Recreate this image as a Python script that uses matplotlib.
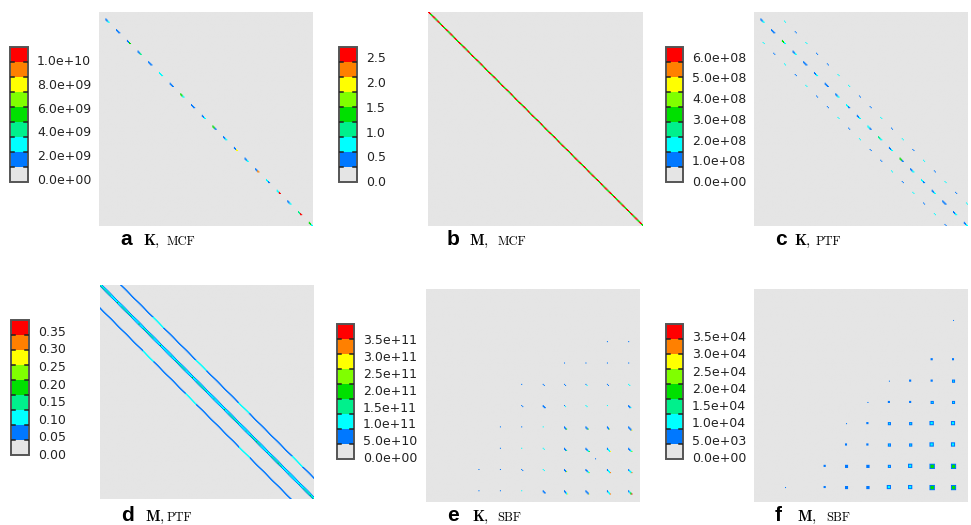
import numpy as np
import matplotlib.pyplot as plt
from matplotlib import colors, transforms
from matplotlib.cm import ScalarMappable

plt.rcParams['mathtext.fontset'] = 'cm'

W, H = 971, 525
N = 200   # matrix size (entries)
B = 10    # entries per node block

band_colors = ['#e5e5e5', '#0078ff', '#00ffff', '#00f08c', '#00e000',
               '#80ff00', '#ffff00', '#ff8000', '#ff0000']

# ---------------- data ----------------
# a  K, MCF   (x1e9) one dash per diagonal block
a_head = [1.6, 1.6, 1.6, 1.6, 1.6, 2.9, 1.6, 5.4, 1.6, 1.6,
          5.4, 1.6, 1.6, 1.6, 1.6, 2.9, 2.9, 1.6, 4.2, 5.4]
a_tail = [2.9, 1.6, 5.4, 4.2, 1.6, 2.9, 1.6, 2.9, 1.6, 2.9,
          1.6, 2.9, 8.0, 2.9, 9.2, 1.6, 10.5, 2.9, 10.5, 2.9]

# b  M, MCF   diagonal, repeating dof values
b_dof = [2.6, 2.6, 1.3, 1.3]

# c  K, PTF   (x1e8) main dashes and +/-2 block off-diagonals
c_main_head = [1.0, 1.0, 3.2, 1.0, 1.0, 1.0, 1.0, 1.0, 1.8, 1.0,
               1.8, 2.5, 1.0, 3.2, 1.0, 1.8, 1.0, 1.0, 1.0, 1.0]
c_main_tail = [1.8, 1.0, 1.8, 1.8, 1.0, 1.8, 1.0, 1.8, 1.0, 1.8,
               1.0, 1.8, 1.8, 1.0, 1.8, 1.0, 1.8, 1.0, 1.8, 1.8]
c_upper = [1.8, 1.0, 1.8, 1.0, 1.0, 1.8, 1.8, 1.0, 1.0,
           1.8, 1.0, 1.8, 1.0, 1.8, 1.0, 1.8, 1.0, 1.8]
c_lower = [1.8, 1.0, 1.8, 1.0, 1.8, 1.0, 1.0, 1.8, 1.0,
           1.8, 1.0, 1.0, 1.8, 1.0, 1.8, 1.0, 1.8, 1.0]

# d  M, PTF   banded, per block
d_main = [0.13, 0.11, 0.13, 0.11, 0.13, 0.11, 0.11, 0.13, 0.11, 0.13,
          0.11, 0.11, 0.13, 0.11, 0.13, 0.11, 0.13, 0.11, 0.11, 0.13]
d_node = [0.16, 0.18, 0.15, 0.17, 0.15, 0.18, 0.16, 0.15, 0.19, 0.16,
          0.15, 0.18, 0.16, 0.15, 0.17, 0.16, 0.18, 0.15, 0.16, 0.17]
d_side = [0.10, 0.09, 0.10, 0.10, 0.09, 0.10, 0.10, 0.09, 0.10, 0.10,
          0.09, 0.10, 0.10, 0.09, 0.10, 0.10, 0.09, 0.10, 0.10, 0.09]
d_edge = [0.06, 0.06, 0.06, 0.06, 0.06, 0.06, 0.06, 0.06, 0.06, 0.06,
          0.06, 0.06, 0.06, 0.06, 0.06, 0.06, 0.06, 0.06, 0.06, 0.06]
d_upper = [0.07, 0.06, 0.07, 0.09, 0.06, 0.07, 0.06, 0.09, 0.06, 0.07,
           0.06, 0.09, 0.07, 0.06, 0.07, 0.06, 0.09, 0.06, 0.07, 0.06]
d_lower = [0.06, 0.07, 0.06, 0.07, 0.09, 0.06, 0.07, 0.06, 0.09, 0.06,
           0.07, 0.06, 0.07, 0.09, 0.06, 0.07, 0.06, 0.07, 0.09, 0.06]

# e  K, SBF   (x1e11) dashes at grid nodes
e_pos = [49, 69, 89, 109, 129, 149, 169, 189]
e_dots = [
    [[], [], [], [], [], [], [0.6], [0.6]],
    [[], [], [], [], [0.6], [0.6], [0.6], [0.6]],
    [[], [], [0.6], [0.6, 0.6], [0.6, 0.6], [0.6, 1.05], [0.6, 0.6], [1.05, 1.05]],
    [[], [], [0.6, 0.6], [0.6, 0.6, 0.6], [0.6, 1.05], [1.05, 1.05], [1.05], [0.6, 0.6, 1.05]],
    [[], [0.6], [0.6], [1.05], [0.6, 0.6, 1.95], [0.6, 0.6, 1.95], [0.6, 0.6, 2.4], [0.6, 0.6, 0.6, 2.8]],
    [[], [0.6], [1.05], [1.05, 1.05], [0.6, 0.6, 1.5], [0.6, 0.6, 1.05, 1.95], [0.6, 1.05, 1.05, 2.8], [0.6, 0.6, 1.05, 2.4]],
    [[0.6], [0.6], [0.6, 0.6], [1.05, 1.05], [0.6, 0.6, 2.4], [0.6, 0.6, 1.05, 2.4], [0.6, 1.05, 1.05, 3.3], [0.6, 1.05, 1.05, 3.3]],
    [[0.6], [0.6], [1.05], [0.6, 0.6, 0.6], [0.6, 0.6, 1.05, 2.8], [0.6, 0.6, 0.6, 2.8], [0.6, 1.05, 1.05, 3.3], [0.6, 1.05, 1.95, 3.7]],
]
e_extra = (159, 158, 0.6)

# f  M, SBF   (x1e4) small blobs at grid nodes
f_pos = [29, 66, 86, 106, 126, 146, 166, 186]
f_size = [
    [0, 0, 0, 0, 0, 0, 0, 1],
    [0, 0, 0, 0, 0, 0, 2, 2],
    [0, 0, 0, 0, 1, 2, 2, 3],
    [0, 0, 0, 1, 2, 2, 3, 3],
    [0, 0, 1, 2, 3, 3, 4, 4],
    [0, 0, 2, 2, 3, 3, 4, 4],
    [0, 2, 3, 3, 3, 4, 5, 5],
    [1, 2, 3, 3, 4, 4, 5, 5],
]
f_core = [
    [0, 0, 0, 0, 0, 0, 0, 0.6],
    [0, 0, 0, 0, 0, 0, 0.6, 0.6],
    [0, 0, 0, 0, 0.6, 0.6, 0.6, 0.9],
    [0, 0, 0, 0.6, 0.6, 0.6, 0.9, 0.9],
    [0, 0, 0.6, 0.6, 0.9, 0.9, 1.0, 1.1],
    [0, 0, 0.6, 0.6, 0.9, 0.9, 1.1, 1.2],
    [0, 0.6, 0.6, 0.6, 1.0, 1.1, 1.9, 2.0],
    [0.6, 0.6, 0.6, 0.6, 1.0, 1.2, 2.0, 2.0],
]
f_rim = 0.6

# colour legend ticks
a_ticks = [0, 2e9, 4e9, 6e9, 8e9, 1e10]
b_ticks = [0, 0.5, 1.0, 1.5, 2.0, 2.5]
c_ticks = [0, 1e8, 2e8, 3e8, 4e8, 5e8, 6e8]
d_ticks = [0, 0.05, 0.10, 0.15, 0.20, 0.25, 0.30, 0.35]
e_ticks = [0, 5e10, 1e11, 1.5e11, 2e11, 2.5e11, 3e11, 3.5e11]
f_ticks = [0, 5e3, 1e4, 1.5e4, 2e4, 2.5e4, 3e4, 3.5e4]


# ---------------- build matrices ----------------
def dash(M, r, c, vals, thick=False):
    for k, v in enumerate(vals):
        M[r + k, c + k] = v
        if thick and k < len(vals) - 1:
            M[r + k + 1, c + k] = v


def build_a():
    M = np.zeros((N, N))
    for k in range(N // B):
        p = k * B + 6
        dash(M, p, p, [a_head[k], a_head[k], a_tail[k], a_tail[k]], thick=True)
    return M * 1e9


def build_b():
    M = np.zeros((N, N))
    for i in range(N):
        v = b_dof[i % len(b_dof)]
        M[i, i] = v
        if i + 1 < N:
            M[i, i + 1] = v
    return M


def build_c():
    M = np.zeros((N, N))
    for k in range(N // B):
        p = k * B + 6
        h, t = c_main_head[k], c_main_tail[k]
        dash(M, p, p, [h, h, t, t], thick=True)
    for k in range(len(c_upper)):
        dash(M, k * B + 8, (k + 2) * B + 8, [c_upper[k], c_upper[k]])
        dash(M, (k + 2) * B + 8, k * B + 8, [c_lower[k], c_lower[k]])
    return M * 1e8


def build_d():
    M = np.zeros((N, N))
    for i in range(N):
        blk = i // B
        M[i, i] = d_main[blk]
        if i + 1 < N:
            M[i, i + 1] = d_side[blk]
            M[i + 1, i] = d_edge[blk]
        if i + 2 < N:
            M[i, i + 2] = d_edge[blk]
        for off in (19, 20):
            if i + off < N:
                M[i, i + off] = d_upper[blk]
        for off in (21, 22):
            if i + off < N:
                M[i + off, i] = d_lower[blk]
    for k in range(N // B):
        p = k * B + 6
        M[p, p] = d_node[k]
    return M


def build_e():
    M = np.zeros((N, N))
    for i, row in enumerate(e_dots):
        for j, vals in enumerate(row):
            if vals:
                dash(M, e_pos[i], e_pos[j], vals, thick=len(vals) > 2)
    r, c, v = e_extra
    M[r, c] = v
    return M * 1e11


def build_f():
    M = np.zeros((N, N))
    for i in range(len(f_pos)):
        for j in range(len(f_pos)):
            s = f_size[i][j]
            if s == 0:
                continue
            r0, c0 = f_pos[i] - s // 2, f_pos[j] - s // 2
            if s < 3:
                M[r0:r0 + s, c0:c0 + s] = f_core[i][j]
            else:
                M[r0:r0 + s, c0:c0 + s] = f_rim
                M[r0 + 1:r0 + s - 1, c0 + 1:c0 + s - 1] = f_core[i][j]
    return M * 1e4


panels = [
    # letter, symbol, method, matrix, ticks, label format, legend range
    ('a', 'K', 'MCF', build_a(), a_ticks, '{:.1e}', (-0.25e9, 11.09e9)),
    ('b', 'M', 'MCF', build_b(), b_ticks, '{:.1f}', (-0.02, 2.708)),
    ('c', 'K', 'PTF', build_c(), c_ticks, '{:.1e}', (-0.048e8, 6.47e8)),
    ('d', 'M', 'PTF', build_d(), d_ticks, '{:.2f}', (-0.003, 0.381)),
    ('e', 'K', 'SBF', build_e(), e_ticks, '{:.1e}', (-0.05e11, 3.94e11)),
    ('f', 'M', 'SBF', build_f(), f_ticks, '{:.1e}', (-0.058e4, 3.85e4)),
]

# layout in pixels: image box, colorbar box, caption (letter x, symbol x, method x, baseline)
img_boxes = [(99, 12, 214, 214), (428, 12, 214, 214), (754, 12, 214, 214),
             (100, 285, 214, 214), (426, 289, 213, 213), (754, 289, 214, 213)]
cb_boxes = [(10, 47, 18, 135), (339, 47, 18, 135), (666, 47, 17, 135),
            (11, 320, 18, 135), (337, 324, 17, 135), (666, 324, 17, 135)]
captions = [(120, 143, 167, 245), (447, 469, 498, 245), (775, 794, 816, 245),
            (121, 145, 167, 521), (447, 472, 497, 521), (775, 797, 826, 521)]

fig = plt.figure(figsize=(W / 100, H / 100), dpi=100)
cmap = colors.ListedColormap(band_colors)


def add_ax(box):
    x, y, w, h = box
    return fig.add_axes([x / W, 1 - (y + h) / H, w / W, h / H])


for (letter, sym, meth, M, ticks, fmt, (lo, hi)), ib, cb, cap in zip(
        panels, img_boxes, cb_boxes, captions):
    bounds = np.linspace(lo, hi, len(band_colors) + 1)
    norm = colors.BoundaryNorm(bounds, cmap.N)

    ax = add_ax(ib)
    ax.imshow(M, cmap=cmap, norm=norm, interpolation='hanning',
              interpolation_stage='rgba', aspect='auto')
    ax.set_xticks([])
    ax.set_yticks([])
    for s in ax.spines.values():
        s.set_visible(False)

    cax = add_ax(cb)
    cbar = fig.colorbar(ScalarMappable(norm=norm, cmap=cmap), cax=cax, ticks=ticks)
    cbar.ax.set_yticklabels([fmt.format(t) for t in ticks])
    cax.minorticks_off()
    cax.tick_params(which='both', length=0, width=0, pad=6.5, labelsize=9,
                    labelcolor='#222222')
    cbar.outline.set_edgecolor('#555555')
    cbar.outline.set_linewidth(1.4)
    tr = transforms.blended_transform_factory(cax.transAxes, cax.transData)
    for b in bounds[1:-1]:
        cax.plot([0, 0.22], [b, b], color='#222222', lw=1.1, transform=tr, zorder=5)
        cax.plot([0.78, 1], [b, b], color='#222222', lw=1.1, transform=tr, zorder=5)

    lx, sx, mx, by = cap
    fig.text(lx / W, 1 - by / H, letter, family='Liberation Sans', weight='bold',
             fontsize=15, va='baseline')
    fig.text(sx / W, 1 - by / H, r'$\mathbf{%s}$,' % sym, family='cmr10',
             fontsize=11, va='baseline')
    fig.text(mx / W, 1 - by / H, meth, family='cmr10', fontsize=9, va='baseline')

fig.savefig('out.png', dpi=100, facecolor='white')
